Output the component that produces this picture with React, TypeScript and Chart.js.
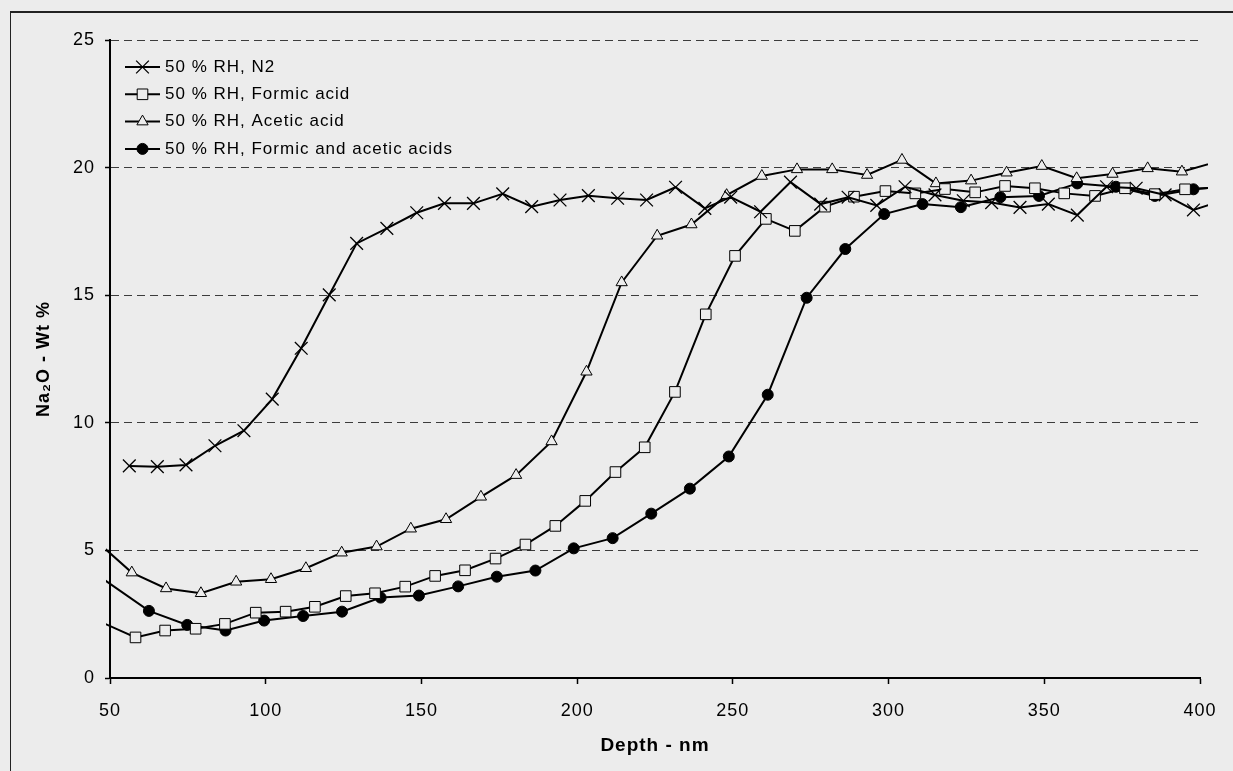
import React, { useEffect, useRef } from 'react';
import { Chart, registerables } from 'chart.js';
import { drawPoint } from 'chart.js/helpers';

Chart.register(...registerables);

// ---- data (depth in nm, Na2O wt %) ----
const xN2 = [56.2, 65.2, 74.4, 83.7, 93.0, 102.1, 111.4, 120.4, 129.2, 138.9, 148.5, 157.4, 166.7, 176.1, 185.4, 194.5, 203.6, 213.0, 222.3, 231.6, 241.0, 249.3, 258.9, 268.5, 278.2, 287.0, 296.2, 305.3, 314.9, 324.0, 333.1, 342.2, 351.3, 360.6, 370.0, 379.5, 388.8, 397.9, 407.0];
const yN2 = [8.31, 8.28, 8.35, 9.10, 9.69, 10.93, 12.92, 15.01, 17.03, 17.62, 18.23, 18.60, 18.60, 18.97, 18.47, 18.73, 18.90, 18.80, 18.73, 19.23, 18.40, 18.84, 18.27, 19.43, 18.57, 18.84, 18.52, 19.25, 18.93, 18.70, 18.63, 18.44, 18.57, 18.14, 19.25, 19.19, 18.93, 18.34, 18.70];

const xFormic = [47.0, 58.2, 67.7, 77.5, 86.9, 96.8, 106.4, 115.8, 125.7, 135.1, 144.8, 154.4, 164.0, 173.8, 183.4, 193.0, 202.6, 212.3, 221.7, 231.4, 241.3, 250.7, 260.6, 269.9, 279.6, 288.9, 299.0, 308.6, 318.1, 327.8, 337.4, 347.0, 356.4, 366.3, 375.9, 385.5, 395.2, 404.8];
const yFormic = [2.20, 1.59, 1.86, 1.93, 2.12, 2.56, 2.60, 2.79, 3.21, 3.32, 3.58, 4.00, 4.22, 4.68, 5.23, 5.96, 6.94, 8.07, 9.04, 11.21, 14.25, 16.54, 17.99, 17.52, 18.47, 18.86, 19.08, 18.99, 19.16, 19.03, 19.28, 19.19, 18.99, 18.89, 19.19, 18.96, 19.15, 19.22];

const xAcetic = [45.8, 57.0, 68.0, 79.2, 90.5, 101.7, 112.9, 124.4, 135.6, 146.6, 157.9, 169.1, 180.4, 191.8, 203.0, 214.3, 225.7, 236.7, 248.0, 259.3, 270.6, 281.9, 293.1, 304.3, 315.2, 326.5, 337.9, 349.2, 360.4, 371.9, 383.2, 394.2, 405.4];
const yAcetic = [5.35, 4.13, 3.51, 3.32, 3.77, 3.87, 4.30, 4.91, 5.15, 5.85, 6.22, 7.10, 7.95, 9.27, 12.0, 15.5, 17.33, 17.77, 18.92, 19.67, 19.93, 19.93, 19.71, 20.30, 19.38, 19.49, 19.80, 20.06, 19.58, 19.75, 19.97, 19.84, 20.23];

const xBoth = [47.0, 62.5, 74.8, 87.1, 99.5, 112.0, 124.5, 136.9, 149.2, 161.8, 174.2, 186.6, 198.9, 211.4, 223.8, 236.2, 248.7, 261.2, 273.7, 286.1, 298.6, 310.9, 323.2, 335.9, 348.3, 360.6, 373.0, 385.5, 397.9, 410.3];
const yBoth = [3.95, 2.63, 2.08, 1.86, 2.25, 2.43, 2.60, 3.15, 3.23, 3.59, 3.97, 4.21, 5.08, 5.48, 6.44, 7.42, 8.68, 11.1, 14.9, 16.81, 18.18, 18.57, 18.45, 18.84, 18.89, 19.38, 19.25, 18.89, 19.15, 19.28];

const seriesLabels = [
  '50 % RH, N2',
  '50 % RH, Formic acid',
  '50 % RH, Acetic acid',
  '50 % RH, Formic and acetic acids',
];
const xAxisTitle = 'Depth - nm';
const yAxisTitle = 'Na\u2082O - Wt %';

// ---- styling ----
const BG = '#ececec';
const FONT = '"Liberation Sans", Arial, sans-serif';
const LETTER_SPACING = '1px';

const toPoints = (xs: number[], ys: number[]) => xs.map((x, i) => ({ x, y: ys[i] }));

const clipArea = { left: 4, top: 10, right: 8, bottom: 0 };

const spacingPlugin = {
  id: 'letterSpacing',
  beforeUpdate(chart: any) {
    chart.ctx.letterSpacing = LETTER_SPACING;
  },
  beforeDraw(chart: any) {
    chart.ctx.letterSpacing = LETTER_SPACING;
  },
};

const legendPlugin = {
  id: 'lineMarkerLegend',
  afterDraw(chart: any) {
    const ctx = chart.ctx as CanvasRenderingContext2D;
    const area = chart.chartArea;
    const x0 = area.left + 15;
    const x1 = area.left + 50;
    const xm = (x0 + x1) / 2;
    const xt = area.left + 55;
    const y0 = area.top + 27;
    const dy = 27.3;
    ctx.save();
    (ctx as any).letterSpacing = LETTER_SPACING;
    chart.data.datasets.forEach((ds: any, i: number) => {
      const y = y0 + i * dy;
      ctx.setLineDash([]);
      ctx.strokeStyle = '#000';
      ctx.lineWidth = 2;
      ctx.beginPath();
      ctx.moveTo(x0, y);
      ctx.lineTo(x1, y);
      ctx.stroke();
      ctx.fillStyle = ds.pointBackgroundColor;
      ctx.strokeStyle = ds.pointBorderColor;
      ctx.lineWidth = ds.pointBorderWidth;
      drawPoint(ctx, { pointStyle: ds.pointStyle, radius: ds.pointRadius, rotation: 0, borderWidth: ds.pointBorderWidth } as any, xm, y);
      ctx.fillStyle = '#000';
      ctx.font = `17px ${FONT}`;
      ctx.textAlign = 'left';
      ctx.textBaseline = 'middle';
      ctx.fillText(ds.label, xt, y);
    });
    ctx.restore();
  },
};

export default function App() {
  const canvasRef = useRef<HTMLCanvasElement | null>(null);

  useEffect(() => {
    const canvas = canvasRef.current;
    if (!canvas) return;
    const common = {
      borderColor: '#000',
      borderWidth: 2,
      tension: 0,
      pointBorderColor: '#000',
      pointBorderWidth: 1,
      clip: clipArea,
      fill: false,
    };
    const chart = new Chart(canvas, {
      type: 'line',
      data: {
        datasets: [
          { ...common, label: seriesLabels[0], data: toPoints(xN2, yN2), pointStyle: 'crossRot', pointRadius: 9, pointBorderWidth: 1.3, pointBackgroundColor: '#000' },
          { ...common, label: seriesLabels[1], data: toPoints(xFormic, yFormic), pointStyle: 'rect', pointRadius: 7.5, pointBackgroundColor: BG },
          { ...common, label: seriesLabels[2], data: toPoints(xAcetic, yAcetic), pointStyle: 'triangle', pointRadius: 6.5, pointBackgroundColor: BG },
          { ...common, label: seriesLabels[3], data: toPoints(xBoth, yBoth), pointStyle: 'circle', pointRadius: 5.5, pointBackgroundColor: '#000' },
        ] as any,
      },
      options: {
        animation: false,
        responsive: false,
        devicePixelRatio: 1,
        layout: { padding: { left: 0, right: 33, top: 40, bottom: 0 } },
        plugins: { legend: { display: false }, tooltip: { enabled: false } },
        scales: {
          x: {
            type: 'linear',
            min: 50,
            max: 400,
            ticks: { stepSize: 50, color: '#000', font: { family: FONT, size: 18 }, padding: 16, maxRotation: 0 },
            grid: { drawOnChartArea: false, drawTicks: true, tickLength: 6, tickColor: '#000', tickWidth: 1.5 },
            border: { display: true, color: '#000', width: 2 },
            title: { display: true, text: xAxisTitle, color: '#000', font: { family: FONT, size: 19, weight: 'bold' }, padding: { top: 0, bottom: 14 } },
            afterFit: (s: any) => { s.height = 93; },
          },
          y: {
            min: 0,
            max: 25,
            ticks: { stepSize: 5, color: '#000', font: { family: FONT, size: 18 }, padding: 10 },
            grid: { color: '#3c3c3c', lineWidth: 1, drawTicks: true, tickLength: 5, tickColor: '#000', tickWidth: 1.5, tickBorderDash: [] },
            border: { display: true, color: '#000', width: 2, dash: [8, 5] },
            title: { display: true, text: yAxisTitle, color: '#000', font: { family: FONT, size: 18, weight: 'bold' }, padding: { top: 33, bottom: 0 } },
            afterFit: (s: any) => { s.width = 110; },
          },
        },
      } as any,
      plugins: [spacingPlugin, legendPlugin],
    });
    return () => chart.destroy();
  }, []);

  return (
    <div style={{ position: 'fixed', left: 0, top: 0, width: 1233, height: 771, background: BG, overflow: 'hidden' }}>
      <canvas ref={canvasRef} width={1233} height={771} style={{ position: 'absolute', left: 0, top: 0 }} />
      <div
        style={{
          position: 'absolute',
          left: 10,
          top: 11,
          width: 1300,
          height: 900,
          borderTop: '2px solid #222',
          borderLeft: '1px solid #222',
          pointerEvents: 'none',
        }}
      />
    </div>
  );
}
